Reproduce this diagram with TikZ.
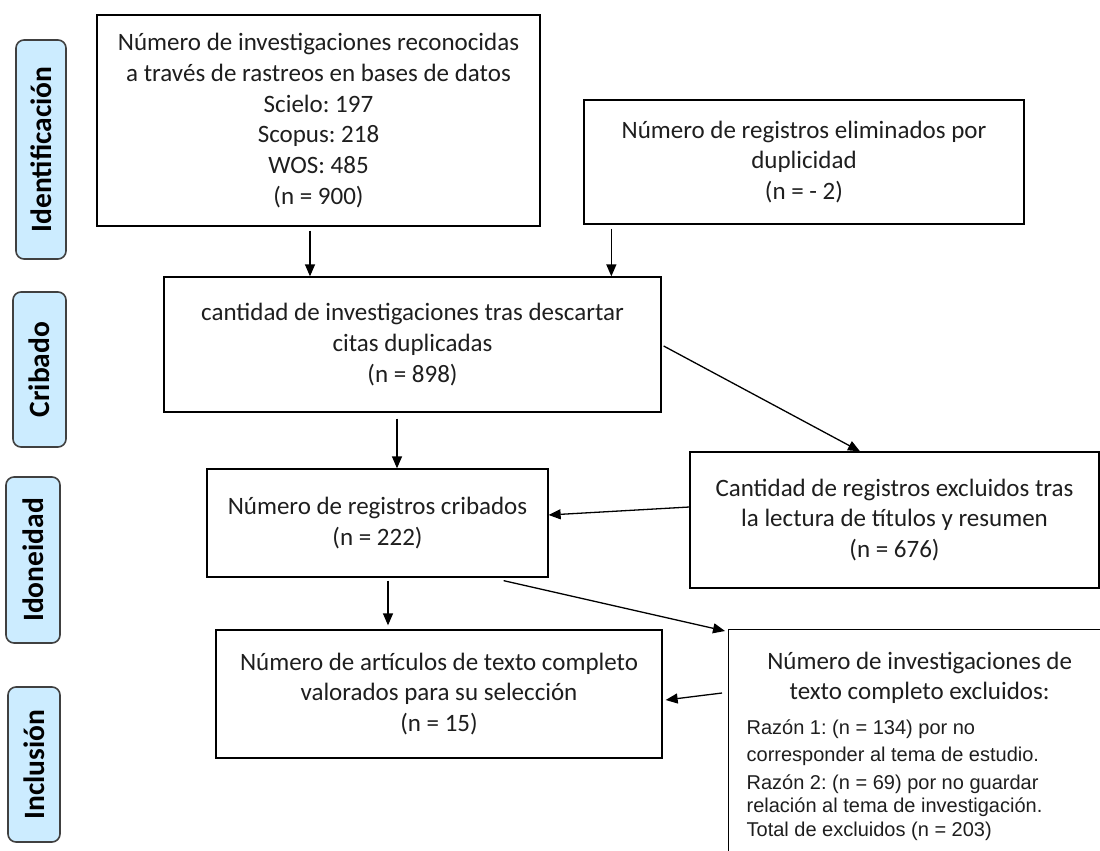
\documentclass[tikz,border=0pt]{standalone}
\usepackage{fontspec}
\setmainfont{Carlito}
\newfontfamily\arialfont{Liberation Sans}
\usepackage{xcolor}
\usetikzlibrary{shapes,arrows.meta,positioning}
\definecolor{stageblue}{RGB}{204,236,255}
\definecolor{stagegray}{RGB}{64,64,64}
\definecolor{textgray}{RGB}{30,30,30}
\tikzstyle{line} = [draw, line width=1.3pt, -{Triangle[length=12pt,width=10pt]}]
\frenchspacing

\begin{document}
\begin{tikzpicture}[x=1pt, y=-1pt, box/.style={rectangle, draw, line width=1.3pt, text=textgray, align=center, inner sep=0pt, font=\fontsize{25}{30.7}\selectfont}, stage/.style={rectangle, draw=stagegray, fill=stageblue, line width=1.6pt, rounded corners=8pt, rotate=90, inner sep=0pt, font=\bfseries\fontsize{29.5}{32}\selectfont}]
        \useasboundingbox (0,0) rectangle (1100,851);
        % etapas
        \node[stage, minimum width=219pt, minimum height=50pt] (Identificacion) at (41,149.5) {Identificación};
        \node[stage, minimum width=155pt, minimum height=53pt] (Cribado) at (39.5,369.5) {Cribado};
        \node[stage, minimum width=166pt, minimum height=54pt] (Idoneidad) at (33,560) {Idoneidad};
        \node[stage, minimum width=155pt, minimum height=52pt] (Inclusion) at (34,764.5) {Inclusión};
        
        \node[box, minimum width=443pt, minimum height=211pt] (Busqueda) at (318.5,120.5) {Número de investigaciones reconocidas\\ a través de rastreos en bases de datos\\ Scielo: 197\\ Scopus: 218\\ WOS: 485\\ (n = 900)};
        \node[box, minimum width=440pt, minimum height=124pt] (Duplicados) at (804,162) {Número de registros eliminados por\\ duplicidad\\ (n = - 2)};
        \node[box, minimum width=497pt, minimum height=135pt] (Depurados) at (412.5,344.5) {cantidad de investigaciones tras descartar\\ citas duplicadas\\ (n = 898)};
        \node[box, minimum width=341pt, minimum height=108pt] (Cribados) at (377.5,523) {Número de registros cribados\\ (n = 222)};
        \node[box, minimum width=409pt, minimum height=136pt] (ExclTitulos) at (894.5,520) {Cantidad de registros excluidos tras\\ la lectura de títulos y resumen\\ (n = 676)};
        \node[box, minimum width=446pt, minimum height=128pt] (TextoCompleto) at (439,694) {Número de artículos de texto completo\\ valorados para su selección\\ (n = 15)};
        \node[box, anchor=north west, inner xsep=18pt, minimum width=382pt] (ExclTexto) at (728,629) {\parbox[t][240pt][t]{346pt}{\vspace*{22pt}\centering Número de investigaciones de\\ texto completo excluidos:\par\vspace{8pt}
            \raggedright\arialfont\fontsize{20}{27}\selectfont Razón 1: (n = 134) por no\\ corresponder al tema de estudio.\\[1pt] Razón 2: (n = 69) por no guardar\\[-4pt] relación al tema de investigación.\\[-3pt] Total de excluidos (n = 203)}};
        
        \path [line] ([xshift=-8.5pt,yshift=-4pt]Busqueda.south) -- ([xshift=-8.5pt]Busqueda.south |- Depurados.north);
        \path [line] ([xshift=28pt,yshift=-4pt]Duplicados.south west) -- ([xshift=28pt]Duplicados.south west |- Depurados.north);
        \path [line] ([xshift=-15.5pt,yshift=-6pt]Depurados.south) -- ([xshift=-15.5pt]Depurados.south |- Cribados.north);
        \path [line] ([xshift=2pt,yshift=-1.5pt]Depurados.east) -- ([xshift=-34.5pt]ExclTitulos.north);
        \path [line] ([yshift=13pt]ExclTitulos.west) -- ([yshift=8pt]Cribados.east);
        \path [line] ([xshift=10.5pt,yshift=-3pt]Cribados.south) -- ([xshift=10.5pt,yshift=4pt]Cribados.south |- TextoCompleto.north);
        \path [line] ([xshift=-45pt,yshift=-3pt]Cribados.south east) -- ([xshift=-3pt,yshift=-2pt]ExclTexto.north west);
        \path [line] ([xshift=-6pt,yshift=-64pt]ExclTexto.north west) -- ([xshift=3pt,yshift=-6pt]TextoCompleto.east);
    \end{tikzpicture}
\end{document}
